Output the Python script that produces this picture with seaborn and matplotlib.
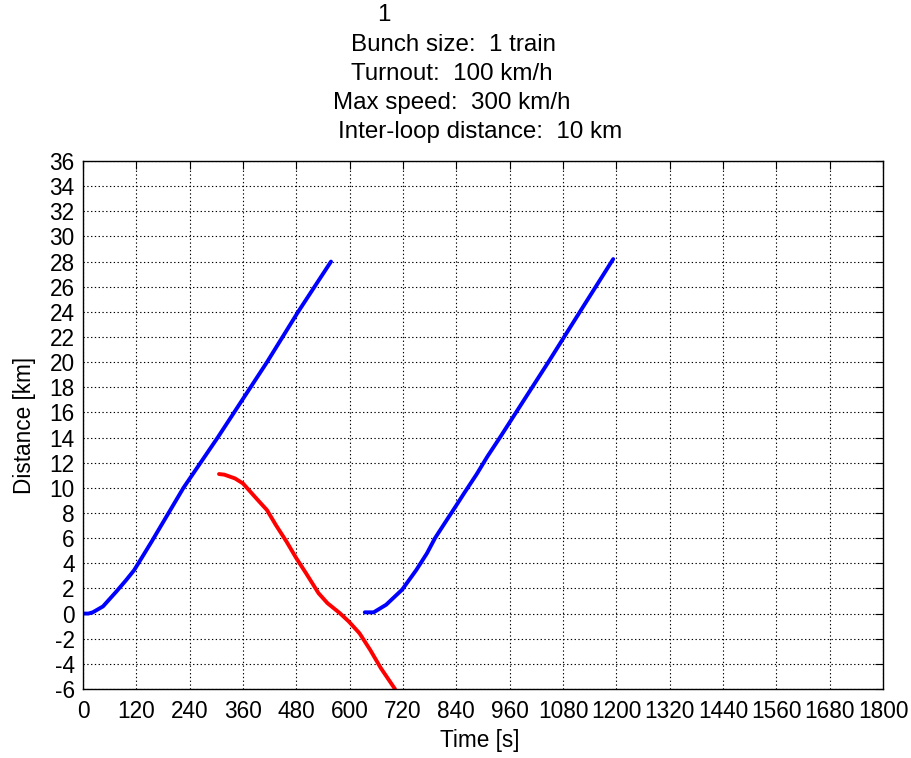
"""
Train distance vs time chart (MATLAB-style look) redrawn with seaborn.

Output: out.png (911x758)
"""

import matplotlib
matplotlib.use("Agg")
import matplotlib.pyplot as plt
import pandas as pd
import seaborn as sns

# Outbound train 1 (blue)
TRAIN1_T = [0, 12, 22, 45, 75, 97, 115, 135, 154, 226, 303, 414, 484, 558]
TRAIN1_D = [0, 0, 0.1, 0.57, 1.75, 2.66, 3.45, 4.6, 5.7, 10, 14, 20, 24, 28]

# Outbound train 2 (blue)
TRAIN2_T = [634, 654, 682, 718, 750, 774, 792, 814, 838, 858, 886, 910, 938, 1047, 1118, 1193]
TRAIN2_D = [0.1, 0.1, 0.7, 1.9, 3.47, 4.8, 6.0, 7.2, 8.5, 9.6, 11.1, 12.5, 14, 20, 24, 28.2]

# Returning train (red)
RETURN_T = [306, 318, 342, 360, 390, 414, 434, 458, 480, 502, 530, 550, 578, 598, 622, 646, 670, 702]
RETURN_D = [11.1, 11.05, 10.75, 10.35, 9.16, 8.23, 7.04, 5.72, 4.4, 3.2, 1.62, 0.83, 0.03, -0.63, -1.56, -2.88, -4.33, -6.0]

X_TICKS = list(range(0, 1801, 120))
Y_TICKS = list(range(-6, 37, 2))

TITLE_LINES = [
    ("1", 384, 15, "center"),
    ("Bunch size:  1 train", 351, 45, "left"),
    ("Turnout:  100 km/h", 351, 74, "left"),
    ("Max speed:  300 km/h", 333, 103, "left"),
    ("Inter-loop distance:  10 km", 338, 132, "left"),
]

W, H = 911, 758
FS = 16.3
FS_TITLE = 17.4

sns.set_style("white")
plt.rcParams["font.family"] = ["Liberation Sans", "DejaVu Sans"]
plt.rcParams["text.color"] = "black"

fig = plt.figure(figsize=(W / 100, H / 100), dpi=100)
ax = fig.add_axes([83 / W, 1 - 689 / H, 800 / W, 528 / H])

for t, d, col in [(TRAIN1_T, TRAIN1_D, "#0000ff"),
                  (TRAIN2_T, TRAIN2_D, "#0000ff"),
                  (RETURN_T, RETURN_D, "#ff0000")]:
    df = pd.DataFrame({"t": t, "d": d})
    sns.lineplot(data=df, x="t", y="d", ax=ax, color=col, linewidth=2.8,
                 sort=False, estimator=None)

ax.set_xlim(0, 1800)
ax.set_ylim(-6, 36)
ax.set_xticks(X_TICKS)
ax.set_yticks(Y_TICKS)
ax.set_xticklabels([str(v) for v in X_TICKS], fontsize=FS)
ax.set_yticklabels([str(v) for v in Y_TICKS], fontsize=FS)
ax.tick_params(direction="in", length=6, width=0.8, color="black",
               top=True, right=True, labelcolor="black")
ax.tick_params(axis="x", pad=8)
ax.tick_params(axis="y", pad=6)
ax.grid(True, color="black", linestyle=(0, (1.2, 2.2)), linewidth=0.8)
for spine in ax.spines.values():
    spine.set_edgecolor("black")
    spine.set_linewidth(1.0)
ax.set_xlabel("")
ax.set_ylabel("")

fig.text(480 / W, 1 - 740 / H, "Time [s]", fontsize=FS, ha="center", va="center")
fig.text(25 / W, 1 - 425 / H, "Distance [km]", fontsize=FS, ha="center", va="center",
         rotation=90)
for txt, x, y, ha in TITLE_LINES:
    fig.text(x / W, 1 - y / H, txt, fontsize=FS_TITLE, ha=ha, va="center")

fig.savefig("out.png", dpi=100, facecolor="white")
plt.close(fig)
